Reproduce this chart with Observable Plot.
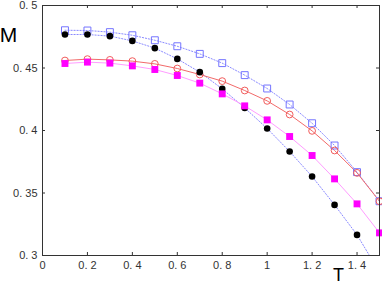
<!DOCTYPE html>
<html>
<head>
<meta charset="utf-8">
<script src="https://cdn.jsdelivr.net/npm/d3@7"></script>
<script src="https://cdn.jsdelivr.net/npm/@observablehq/plot@0.6"></script>
<style>
  html, body { margin: 0; padding: 0; background: #fff; }
  #chart svg { display: block; }
</style>
</head>
<body>
<div id="chart"></div>
<script>
const T = [0.1,0.2,0.3,0.4,0.5,0.6,0.7,0.8,0.9,1.0,1.1,1.2,1.3,1.4,1.5];
const blueSquares = [0.4802,0.4800,0.4787,0.4762,0.4722,0.4674,0.4613,0.4539,0.4443,0.4336,0.4208,0.4058,0.3880,0.3667,0.3434];
const blackCircles = [0.4768,0.4768,0.4755,0.4717,0.4659,0.4573,0.4467,0.4333,0.4181,0.4016,0.3832,0.3632,0.3405,0.3165,0.2866];
const redCircles = [0.4560,0.4571,0.4565,0.4555,0.4533,0.4496,0.4448,0.4395,0.4320,0.4237,0.4128,0.3997,0.3840,0.3661,0.3434];
const magentaSquares = [0.4536,0.4547,0.4539,0.4517,0.4488,0.4440,0.4379,0.4293,0.4197,0.4085,0.3952,0.3800,0.3613,0.3413,0.3181];

const xTicks = [0,0.2,0.4,0.6,0.8,1,1.2,1.4];
const xTickLabels = ["0","0. 2","0. 4","0. 6","0. 8","1","1. 2","1. 4"];
const yTicks = [0.3,0.35,0.4,0.45,0.5];
const yTickLabels = ["0. 3","0. 35","0. 4","0. 45","0. 5"];

const rows = (vals) => T.map((t, i) => ({T: t, M: vals[i]}));
const blue = rows(blueSquares), black = rows(blackCircles), red = rows(redCircles), mag = rows(magentaSquares);

const W = 382, H = 286, mL = 42, mR = 3, mT = 5, mB = 31;
const innerW = W - mL - mR, innerH = H - mT - mB;
const tick = 3;
const font = "'Liberation Sans', Arial, sans-serif";

const chart = Plot.plot({
  width: W, height: H,
  marginLeft: mL, marginRight: mR, marginTop: mT, marginBottom: mB,
  style: {fontFamily: font, fontSize: "11px", color: "#333", background: "#fff"},
  x: {domain: [0, 1.5]},
  y: {domain: [0.3, 0.5]},
  marks: [
    Plot.axisX({ticks: xTicks, tickSize: 0, tickPadding: 6, label: null, fill: "#333",
      tickFormat: d => xTickLabels[xTicks.indexOf(d)] ?? ""}),
    Plot.axisY({ticks: yTicks, tickSize: 0, tickPadding: 5, label: null, fill: "#333",
      tickFormat: d => yTickLabels[yTicks.findIndex(v => Math.abs(v - d) < 1e-9)] ?? ""}),
    // inward tick marks
    Plot.tickX(xTicks, {x: d => d, stroke: "#333", insetTop: innerH - tick}),
    Plot.tickX(xTicks, {x: d => d, stroke: "#333", insetBottom: innerH - tick}),
    Plot.tickY(yTicks, {y: d => d, stroke: "#333", insetLeft: innerW - tick}),
    Plot.tickY(yTicks, {y: d => d, stroke: "#333", insetRight: innerW - tick}),
    // lines
    Plot.line(blue, {x: "T", y: "M", stroke: "#8a8aff", strokeWidth: 1, strokeDasharray: "1.2,1.8", clip: true}),
    Plot.line(black, {x: "T", y: "M", stroke: "#8a8aff", strokeWidth: 1, strokeDasharray: "1.2,1.8", clip: true}),
    Plot.line(red, {x: "T", y: "M", stroke: "#f26a6a", strokeWidth: 1, clip: true}),
    Plot.line(mag, {x: "T", y: "M", stroke: "#ff9cff", strokeWidth: 1, clip: true}),
    // markers
    Plot.dot(blue, {x: "T", y: "M", symbol: "square", r: 3.9, stroke: "#7474ff", fill: "none", strokeWidth: 1}),
    Plot.dot(red, {x: "T", y: "M", symbol: "circle", r: 3.4, stroke: "#f25c5c", fill: "none", strokeWidth: 1}),
    Plot.dot(black, {x: "T", y: "M", symbol: "circle", r: 3.3, fill: "#000", stroke: "none", clip: true}),
    Plot.dot(mag, {x: "T", y: "M", symbol: "square", r: 3.9, fill: "#ff00ff", stroke: "none"}),
    Plot.frame({stroke: "#333"}),
    Plot.text(["M"], {frameAnchor: "top-left", dx: -34, dy: 22, fontSize: 21, fill: "#000", textAnchor: "middle"}),
    Plot.text(["T"], {frameAnchor: "bottom-right", dx: -41, dy: 25, fontSize: 18, fill: "#000", textAnchor: "middle"})
  ]
});
document.getElementById("chart").appendChild(chart);
</script>
</body>
</html>
